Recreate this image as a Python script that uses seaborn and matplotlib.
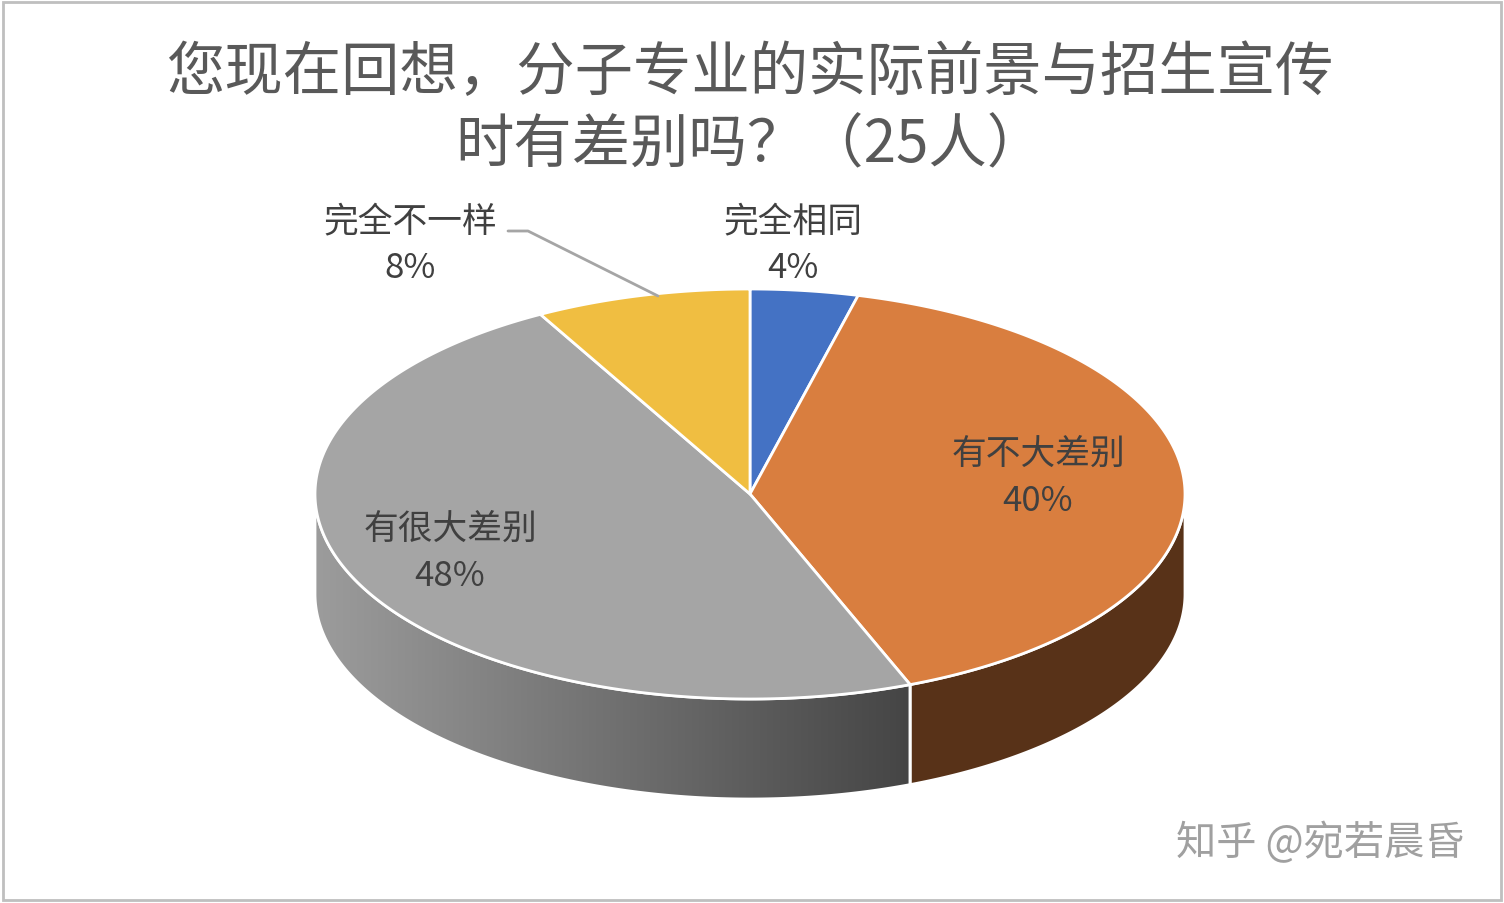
import numpy as np
import seaborn as sns
import matplotlib.pyplot as plt
from matplotlib.colors import LinearSegmentedColormap
from matplotlib.patches import Polygon, Rectangle

sns.set_style("white")
plt.rcParams['font.family'] = ['Noto Sans CJK SC', 'DejaVu Sans']

# data
labels = ["完全相同", "有不大差别", "有很大差别", "完全不一样"]
shares = [4, 40, 48, 8]
top_colors = ["#4472C4", "#D97E3F", "#A5A5A5", "#F0BE41"]
side_colors = ["#2F4F8A", "#583218", None, "#A8852C"]
title = "您现在回想，分子专业的实际前景与招生宣传\n时有差别吗？（25人）"

# pie geometry in pixel coords
cx, cy, rx, ry, depth = 750, 495, 435, 205, 100

fig = plt.figure(figsize=(15.04, 9.04), dpi=100)
ax = fig.add_axes([0, 0, 1, 1])
ax.set_xlim(0, 1504)
ax.set_ylim(904, 0)
ax.axis("off")


def ell(t, dy=0):
    return np.column_stack([cx + rx * np.cos(t), cy + ry * np.sin(t) + dy])


fr = np.array(shares) / sum(shares)
edges = -np.pi / 2 + 2 * np.pi * np.concatenate([[0], np.cumsum(fr)])
gray_cmap = LinearSegmentedColormap.from_list("g", ["#9C9C9C", "#454545"])

# side walls (front half)
for i in range(len(shares)):
    for off in (0, 2 * np.pi):
        a2, b2 = max(edges[i], off), min(edges[i + 1], np.pi + off)
        if b2 <= a2:
            continue
        t = np.linspace(a2, b2, 200)
        pts = np.vstack([ell(t), ell(t[::-1], depth)])
        if side_colors[i] is None:
            poly = Polygon(pts, closed=True, facecolor="none", edgecolor="white", lw=2, zorder=2)
            ax.add_patch(poly)
            grad = np.linspace(0, 1, 256).reshape(1, -1)
            x0, x1 = pts[:, 0].min(), pts[:, 0].max()
            im = ax.imshow(grad, cmap=gray_cmap, extent=[x0, x1, 900, 400],
                           aspect="auto", zorder=1)
            im.set_clip_path(poly)
        else:
            ax.add_patch(Polygon(pts, closed=True, facecolor=side_colors[i],
                                 edgecolor="white", lw=2, zorder=2))

# top surface
for i in range(len(shares)):
    t = np.linspace(edges[i], edges[i + 1], 200)
    pts = np.vstack([[cx, cy], ell(t)])
    ax.add_patch(Polygon(pts, closed=True, facecolor=top_colors[i],
                         edgecolor="white", lw=2, zorder=3))

# labels
fs = 25
lab_pos = [(793, 245), (1038, 478), (450, 553), (410, 245)]
for (x, y), lab, s in zip(lab_pos, labels, shares):
    ax.text(x, y, f"{lab}\n{s}%", ha="center", va="center", fontsize=fs,
            color="#404040", linespacing=1.45, zorder=5)
ax.plot([508, 528, 658], [232, 232, 297], color="#A5A5A5", lw=2, zorder=4)

ax.text(750, 110, title, ha="center", va="center", fontsize=42, color="#595959",
        linespacing=1.25)
ax.text(1465, 843, "知乎 @宛若晨昏", ha="right", va="center", fontsize=29, color="#A0A0A0")

ax.add_patch(Rectangle((3, 3), 1498, 898, fill=False, edgecolor="#BFBFBF", lw=2))

fig.savefig("out.png", dpi=100)
